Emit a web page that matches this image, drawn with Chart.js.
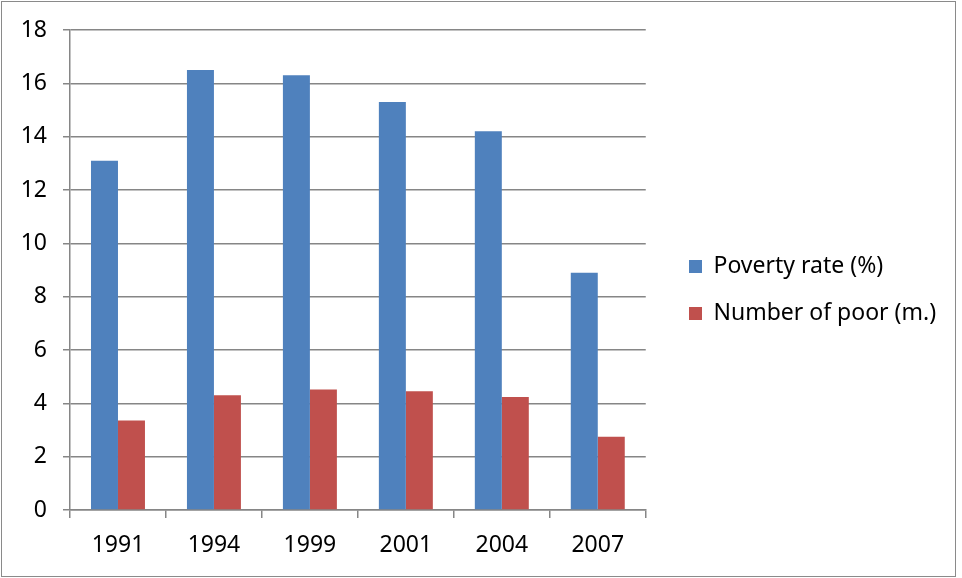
<!DOCTYPE html>
<html lang="en">
<head>
    <meta charset="UTF-8">
    <title>Poverty rate and number of poor</title>
    <style>
        body { margin: 0; background: #fff; }
        #frame { position: absolute; left: 1px; top: 1px; width: 953px; height: 574px; border: 1.5px solid #8a8a8a; }
        #wrap { position: absolute; left: 0; top: 0; width: 962px; height: 578px; }
    </style>
    <script src="https://cdn.jsdelivr.net/npm/chart.js"></script>
</head>
<body>
    <div id="wrap"><canvas id="chart" width="962" height="578"></canvas></div>
    <div id="frame"></div>
    <script>
        const years = ['1991', '1994', '1999', '2001', '2004', '2007'];
        const povertyRate = [13.1, 16.5, 16.3, 15.3, 14.2, 8.9];
        const numberOfPoor = [3.36, 4.3, 4.52, 4.45, 4.24, 2.75];
        const yTicks = [0, 2, 4, 6, 8, 10, 12, 14, 16, 18];

        const gridColor = '#868686';
        const font = { family: 'Noto Sans', size: 23 };

        // the legend box is capped in width by the layout, so widen it and
        // move it where the original has it (a bit higher, further right)
        const legendShift = {
            id: 'legendShift',
            afterLayout(chart) {
                const lg = chart.legend;
                lg.left = 665; lg.right = 962; lg.width = 297;
                lg.top -= 14; lg.bottom -= 14;
            }
        };

        new Chart(document.getElementById('chart'), {
            type: 'bar',
            data: {
                labels: years,
                datasets: [
                    { label: 'Poverty rate (%)', data: povertyRate, backgroundColor: '#4F81BD' },
                    { label: 'Number of poor (m.)', data: numberOfPoor, backgroundColor: '#C0504D' }
                ]
            },
            options: {
                responsive: false,
                animation: false,
                layout: { padding: { top: 30, left: 0, right: 101, bottom: 0 } },
                datasets: { bar: { barPercentage: 1, categoryPercentage: 0.5625 } },
                plugins: {
                    tooltip: { enabled: false },
                    legend: {
                        position: 'right',
                        labels: { font: font, color: '#000', boxWidth: 13, boxHeight: 13, padding: 24 }
                    }
                },
                scales: {
                    x: {
                        grid: { offset: true, drawOnChartArea: false, drawTicks: true, tickLength: 8, color: gridColor, lineWidth: 1.5 },
                        border: { color: gridColor, width: 1.5 },
                        ticks: { font: font, color: '#000', padding: 14 },
                        afterFit: s => { s.height = 68; }
                    },
                    y: {
                        min: 0, max: 18,
                        afterBuildTicks: s => { s.ticks = yTicks.map(v => ({ value: v })); },
                        grid: { color: gridColor, lineWidth: 1.5, tickLength: 7 },
                        border: { color: gridColor, width: 1.5 },
                        ticks: { font: font, color: '#000', padding: 16 },
                        afterFit: s => { s.width = 70; }
                    }
                }
            },
            plugins: [legendShift]
        });
    </script>
</body>
</html>
